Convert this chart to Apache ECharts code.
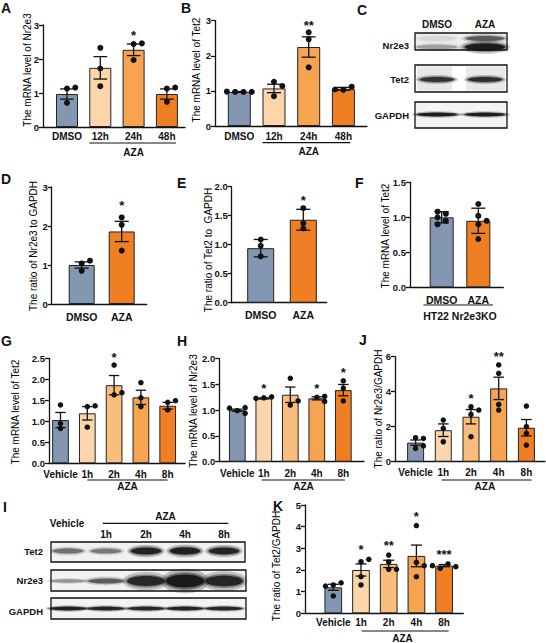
<!DOCTYPE html>
<html><head><meta charset="utf-8">
<script src="https://cdn.jsdelivr.net/npm/echarts@6/dist/echarts.min.js"></script>
<style>html,body{margin:0;padding:0;background:#fff}#c{width:546px;height:643px}</style>
</head><body><div id="c"></div>
<script>
// ---------------- DATA ----------------
const A_cats = ['DMSO','12h','24h','48h'];
const A_mean = [0.97, 1.74, 2.27, 0.97];
const A_err  = [0.15, 0.33, 0.17, 0.15];
const A_dots = [[1.13,1.16,0.71],[2.33,1.72,1.20],[2.44,2.46,1.97],[1.13,1.16,0.74]];
const A_sig  = ['','','*',''];

const B_cats = ['DMSO','12h','24h','48h'];
const B_mean = [0.97, 1.07, 2.25, 1.06];
const B_err  = [0.01, 0.12, 0.29, 0.04];
const B_dots = [[0.97,0.97,0.98,0.97],[1.26,1.14,0.85],[2.67,2.47,1.67],[1.03,1.12,1.04]];
const B_sig  = ['','','**',''];

const D_cats = ['DMSO','AZA'];
const D_mean = [1.0, 1.86];
const D_err  = [0.08, 0.26];
const D_dots = [[1.04,1.11,0.85],[2.22,2.03,1.37]];
const D_sig  = ['','*'];

const E_cats = ['DMSO','AZA'];
const E_mean = [0.94, 1.43];
const E_err  = [0.15, 0.18];
const E_dots = [[1.09,0.98,0.80],[1.63,1.37,1.28]];
const E_sig  = ['','*'];

const F_cats = ['DMSO','AZA'];
const F_mean = [1.0, 0.95];
const F_err  = [0.08, 0.18];
const F_dots = [[1.08,1.05,1.0,0.90,0.95],[1.19,1.02,0.95,0.90,0.69]];
const F_sig  = ['',''];

const G_cats = ['Vehicle','1h','2h','4h','8h'];
const G_mean = [1.03, 1.19, 1.86, 1.57, 1.37];
const G_err  = [0.18, 0.16, 0.23, 0.17, 0.08];
const G_dots = [[1.39,0.95,0.83],[1.35,1.37,0.86],[2.34,1.63,1.68],[1.92,1.56,1.35],[1.45,1.49,1.27]];
const G_sig  = ['','','*','',''];

const H_cats = ['Vehicle','1h','2h','4h','8h'];
const H_mean = [1.0, 1.23, 1.30, 1.23, 1.39];
const H_err  = [0.02, 0.01, 0.15, 0.03, 0.11];
const H_dots = [[0.99,1.05,1.04,0.94],[1.24,1.26,1.23],[1.62,1.10,1.18],[1.25,1.27,1.17],[1.57,1.43,1.18]];
const H_sig  = ['','*','','*','*'];

const J_cats = ['Vehicle','1h','2h','4h','8h'];
const J_mean = [1.09, 1.80, 2.57, 4.19, 1.94];
const J_err  = [0.15, 0.36, 0.41, 0.64, 0.47];
const J_dots = [[1.37,1.33,0.76,0.91],[2.38,1.90,1.14],[3.14,2.95,2.70,1.43],[5.53,5.05,2.95,3.27],[3.18,1.62,0.95,2.00]];
const J_sig  = ['','','*','**',''];

const K_cats = ['Vehicle','1h','2h','4h','8h'];
const K_mean = [1.20, 2.00, 2.28, 2.65, 2.20];
const K_err  = [0.14, 0.28, 0.17, 0.50, 0.05];
const K_dots = [[1.31,1.41,1.26,0.80],[2.38,2.49,1.69,1.31],[2.69,2.03,2.03,2.37],[4.05,2.35,2.20,1.69],[2.08,2.28,2.20,2.15]];
const K_sig  = ['','*','**','*','***'];

// western blots: relative band intensities
const C_lanes = ['DMSO','AZA'];
const C_rows  = ['Nr2e3','Tet2','GAPDH'];
const C_Nr2e3 = [0.25, 0.98];
const C_Nr2e3_upper = [0.06, 0.55];
const C_Tet2  = [0.78, 0.82];
const C_GAPDH = [0.97, 0.97];

const I_lanes = ['Vehicle','1h','2h','4h','8h'];
const I_rows  = ['Tet2','Nr2e3','GAPDH'];
const I_Tet2  = [0.45, 0.42, 0.92, 0.94, 0.9];
const I_Nr2e3 = [0.30, 0.55, 0.88, 1.0, 0.9];
const I_GAPDH = [0.94, 0.9, 0.88, 0.9, 0.9];

// ---------------- STYLE / LAYOUT ----------------
const FONT = "'Liberation Sans', Arial, Helvetica, sans-serif";
const BLUE='#8497B2', P1='#FCD6AA', P2='#FABD7C', P3='#F6A450', P4='#F07F24';
const INK = '#111';

const panels = [
 {cats:A_cats, mean:A_mean, err:A_err, dots:A_dots, sig:A_sig, colors:[BLUE,P1,P3,P4],
  ax:43, xEnd:185, y0:127, yTop:25, ymax:3, interval:1, dec:0, c0:67, sp:33.3, barW:22, dot:6, labGap:4, labSize:10, starGap:1.5,
  group:{from:1,to:3,padL:0.33,padR:0.27,lineDy:16,textDy:25,text:'AZA'}},
 {cats:B_cats, mean:B_mean, err:B_err, dots:B_dots, sig:B_sig, colors:[BLUE,P1,P3,P4],
  ax:215, xEnd:367, y0:126, yTop:20.7, ymax:3, interval:1, dec:0, c0:239.3, sp:34.7, barW:23, dot:6, labGap:5, labSize:10, starGap:0,
  group:{from:1,to:3,padL:0.33,padR:0.2,lineDy:16.7,textDy:25.7,text:'AZA'}},
 {cats:D_cats, mean:D_mean, err:D_err, dots:D_dots, sig:D_sig, colors:[BLUE,P4],
  ax:51.7, xEnd:146.7, y0:304, yTop:187, ymax:3, interval:1, dec:0, c0:81.7, sp:40, barW:26, dot:6, labGap:7, labSize:10.5, starGap:5},
 {cats:E_cats, mean:E_mean, err:E_err, dots:E_dots, sig:E_sig, colors:[BLUE,P4],
  ax:231.7, xEnd:326.7, y0:302.7, yTop:186.7, ymax:2, interval:0.5, dec:1, c0:260.7, sp:42.6, barW:27, dot:6, labGap:7, labSize:10.5, starGap:1.5},
 {cats:F_cats, mean:F_mean, err:F_err, dots:F_dots, sig:F_sig, colors:[BLUE,P4],
  ax:410, xEnd:503.3, y0:287.3, yTop:182.3, ymax:1.5, interval:0.5, dec:1, c0:441.7, sp:36.6, barW:24, dot:6, labGap:7, labSize:10.5, starGap:1.5,
  group:{from:0,to:1,padL:0.5,padR:0.4,lineDy:17.7,textDy:28.7,text:'HT22 Nr2e3KO'}},
 {cats:G_cats, mean:G_mean, err:G_err, dots:G_dots, sig:G_sig, colors:[BLUE,P1,P2,P3,P4],
  ax:49, xEnd:185, y0:463.3, yTop:358.3, ymax:2.5, interval:0.5, dec:1, c0:60.5, sp:26.8, barW:16.7, dot:5.5, labGap:6, labSize:10, starGap:1.5,
  group:{from:1,to:4,padL:0,padR:0.0,lineDy:16.7,textDy:23.4,text:'AZA'}},
 {cats:H_cats, mean:H_mean, err:H_err, dots:H_dots, sig:H_sig, colors:[BLUE,P1,P2,P3,P4],
  ax:219.3, xEnd:364, y0:461.7, yTop:358.7, ymax:2, interval:0.5, dec:1, c0:237.3, sp:26.5, barW:16.7, dot:5.5, labGap:7, labSize:10, starGap:1.5,
  group:{from:1,to:4,padL:0.08,padR:0.06,lineDy:18.3,textDy:25,text:'AZA'}},
 {cats:J_cats, mean:J_mean, err:J_err, dots:J_dots, sig:J_sig, colors:[BLUE,P1,P2,P3,P4],
  ax:395, xEnd:545, y0:461.7, yTop:356.7, ymax:6, interval:2, dec:0, c0:415.6, sp:27.7, barW:17, dot:5.5, labGap:6, labSize:10, starGap:1.5,
  group:{from:1,to:4,padL:0.06,padR:0.19,lineDy:18.3,textDy:25,text:'AZA'}},
 {cats:K_cats, mean:K_mean, err:K_err, dots:K_dots, sig:K_sig, colors:[BLUE,P1,P2,P3,P4],
  ax:305, xEnd:463.3, y0:613.3, yTop:505, ymax:5, interval:1, dec:0, c0:333.3, sp:27.7, barW:17.7, dot:5.5, labGap:4, labSize:10, starGap:3,
  group:{from:1,to:4,padL:-0.02,padR:0.16,lineDy:17.7,textDy:25,text:'AZA'}}
];

const yTitles = [
 ['The mRNA level of Nr2e3', 27, 70],
 ['The mRNA level of Tet2', 196.7, 70],
 ['The ratio of Nr2e3 to GAPDH', 33, 246],
 ['The ratio of Tet2 to  GAPDH', 208.5, 250],
 ['The mRNA level of Tet2', 385.5, 236],
 ['The mRNA level of Tet2', 15, 412],
 ['The mRNA level of Nr2e3', 193.3, 411],
 ['The ratio of Nr2e3/GAPDH', 378, 409],
 ['The ratio of Tet2/GAPDH', 276.7, 566]
];
const letters = [['A',1,1],['B',181,1],['C',357,3],['D',1,172],['E',177,176],['F',355,176],
                 ['G',1,334],['H',177,334],['J',359,333],['I',3,500],['K',273,499]];

// beeswarm-like horizontal spread of points that would overlap
function swarm(vals, pxPerUnit, d, step){
  const placed=[]; const thr=(d*0.85)*(d*0.85);
  const offs = vals.map(v=>{
    for(const k of [0,1,-1,2,-2,3,-3]){
      const off=k*step; let ok=true;
      for(const p of placed){const dx=off-p.off, dy=(v-p.v)*pxPerUnit; if(dx*dx+dy*dy<thr){ok=false;break;}}
      if(ok){placed.push({v,off}); return off;}
    }
    return 0;
  });
  const n=vals.length, seen=new Array(n).fill(false);
  for(let i=0;i<n;i++){ if(seen[i]) continue;
    const cl=[i]; seen[i]=true;
    for(let q=0;q<cl.length;q++) for(let j=0;j<n;j++) if(!seen[j] && Math.abs(vals[j]-vals[cl[q]])*pxPerUnit<d*0.85){seen[j]=true;cl.push(j);}
    if(cl.length>=4){ const os=cl.map(c=>offs[c]); const sh=-(Math.min(...os)+Math.max(...os))/2; cl.forEach(c=>offs[c]+=sh);} }
  return offs;
}

const txt = (size, weight)=>({fontSize:size, fontWeight:weight||'bold', fontFamily:FONT, fill:INK});

const option = {animation:false, grid:[], xAxis:[], yAxis:[], series:[], graphic:[]};

panels.forEach((p,k)=>{
  const n=p.cats.length;
  const xmin = -(p.c0-p.ax)/p.sp;
  const xmax = (n-1) + (p.xEnd-(p.c0+(n-1)*p.sp))/p.sp;
  const pxPerUnit = (p.y0-p.yTop)/p.ymax;
  const axisLine = {show:true, onZero:false, lineStyle:{color:INK, width:1.3}};
  option.grid.push({left:p.ax, top:p.yTop, width:p.xEnd-p.ax, height:p.y0-p.yTop, containLabel:false});
  option.xAxis.push({type:'value', gridIndex:k, min:xmin, max:xmax, axisLine,
    axisTick:{show:false}, axisLabel:{show:false}, splitLine:{show:false}});
  option.yAxis.push({type:'value', gridIndex:k, min:0, max:p.ymax, interval:p.interval, axisLine,
    axisTick:{show:true, length:4, lineStyle:{color:INK, width:1.3}},
    axisLabel:{fontSize:9.5, fontWeight:'bold', color:INK, fontFamily:FONT, margin:4,
      formatter:v=>v.toFixed(p.dec)}, splitLine:{show:false}});
  option.series.push({type:'bar', xAxisIndex:k, yAxisIndex:k, barWidth:p.barW, silent:true, z:2,
    itemStyle:{borderColor:'#222', borderWidth:1},
    data:p.mean.map((m,i)=>({value:[i,m], itemStyle:{color:p.colors[i]}}))});
  const cap = Math.min(14, p.barW*0.62);
  option.series.push({type:'custom', xAxisIndex:k, yAxisIndex:k, silent:true, z:4, clip:false,
    data:p.mean.map((m,i)=>[i,m,p.err[i]]),
    renderItem:(params,api)=>{
      const i=api.value(0), m=api.value(1), e=api.value(2);
      const t=api.coord([i,m+e]), b=api.coord([i,Math.max(0,m-e)]);
      const st={stroke:INK, lineWidth:1.3};
      return {type:'group', children:[
        {type:'line', shape:{x1:t[0],y1:t[1],x2:b[0],y2:b[1]}, style:st},
        {type:'line', shape:{x1:t[0]-cap/2,y1:t[1],x2:t[0]+cap/2,y2:t[1]}, style:st},
        {type:'line', shape:{x1:b[0]-cap/2,y1:b[1],x2:b[0]+cap/2,y2:b[1]}, style:st}]};
    }});
  const pts=[];
  p.dots.forEach((arr,i)=>{ const offs=swarm(arr,pxPerUnit,p.dot,p.dot+2.3);
    arr.forEach((v,j)=>pts.push([i+offs[j]/p.sp, v])); });
  option.series.push({type:'scatter', xAxisIndex:k, yAxisIndex:k, silent:true, z:5, symbolSize:p.dot,
    itemStyle:{color:INK, opacity:1}, data:pts});
  option.series.push({type:'custom', xAxisIndex:k, yAxisIndex:k, silent:true, z:6, clip:false,
    data:p.mean.map((m,i)=>[i, Math.max(m+p.err[i], ...p.dots[i])]),
    renderItem:(params,api)=>{
      const s=p.sig[params.dataIndex]; if(!s) return null;
      const c=api.coord([api.value(0), api.value(1)]);
      return {type:'text', x:c[0], y:c[1]-p.starGap, style:Object.assign(txt(13),{text:s, align:'center', verticalAlign:'bottom'})};
    }});
  option.series.push({type:'custom', xAxisIndex:k, yAxisIndex:k, silent:true, z:6, clip:false,
    data:p.cats.map((c,i)=>[i,0]),
    renderItem:(params,api)=>{
      const c=api.coord([api.value(0),0]);
      return {type:'text', x:c[0], y:c[1]+p.labGap, style:Object.assign(txt(p.labSize),{text:p.cats[params.dataIndex], align:'center', verticalAlign:'top'})};
    }});
  if(p.group){ const g=p.group;
    option.series.push({type:'custom', xAxisIndex:k, yAxisIndex:k, silent:true, z:6, clip:false,
      data:[[g.from-g.padL, g.to+g.padR, (g.from+g.to)/2]],
      renderItem:(params,api)=>{
        const a=api.coord([api.value(0),0]), b=api.coord([api.value(1),0]), m=api.coord([api.value(2),0]);
        return {type:'group', children:[
          {type:'line', shape:{x1:a[0],y1:a[1]+g.lineDy,x2:b[0],y2:a[1]+g.lineDy}, style:{stroke:INK,lineWidth:1.2}},
          {type:'text', x:m[0], y:a[1]+g.textDy, style:Object.assign(txt(p.labSize),{text:g.text, align:'center', verticalAlign:'middle'})}]};
      }});
  }
});

yTitles.forEach(([t,x,y])=>option.graphic.push({type:'text', x, y, rotation:Math.PI/2, silent:true,
  style:Object.assign(txt(10,'normal'),{text:t, align:'center', verticalAlign:'middle', fill:'#000'})}));
letters.forEach(([t,x,y])=>option.graphic.push({type:'text', x, y, silent:true,
  style:Object.assign(txt(14),{text:t, align:'left', verticalAlign:'top'})}));

// ---------- western blots ----------
function band(cx, cy, rx, ry, a){
  const out=[];
  [[1.25,1.9,0.25],[1.1,1.35,0.45],[1,1,0.88]].forEach(([sx,sy,al])=>{
    out.push({type:'ellipse', silent:true, shape:{cx, cy, rx:rx*sx, ry:ry*sy},
      style:{fill:'rgba(15,15,15,'+(a*al).toFixed(3)+')'}});
  });
  return out;
}
function box(x,y,w,h,fill){
  return {type:'rect', silent:true, shape:{x,y,width:w,height:h}, style:{fill:fill||'#f1f1f1', stroke:INK, lineWidth:1.3}};
}
const G = option.graphic;
G.push(box(415,33,92,17,'#eeeeee'));
G.push(box(415,65,92,27,'#ffffff'));
G.push({type:'rect',silent:true,shape:{x:417,y:66.5,width:35,height:24},style:{fill:'#e8e8e8'}});
G.push({type:'rect',silent:true,shape:{x:466,y:66.5,width:39,height:24},style:{fill:'#e8e8e8'}});
G.push(box(415,102,92,26,'#f3f3f3'));
const C_x=[437,485];
C_lanes.forEach((l,i)=>{
  G.push({type:'text',x:C_x[i],y:24,silent:true,style:Object.assign(txt(10),{text:l,align:'center',verticalAlign:'middle'})});
  G.push(...band(C_x[i],38.5,19,2.4,C_Nr2e3_upper[i]));
  G.push(...band(C_x[i],47,20,1.8+1.8*C_Nr2e3[i],C_Nr2e3[i]));
  G.push(...band(C_x[i],79.5,17,2.4,C_Tet2[i]));
  G.push(...band(C_x[i],114.5,20,1.7,C_GAPDH[i]));
});
[[C_rows[0],45],[C_rows[1],79],[C_rows[2],115]].forEach(([t,y])=>
  G.push({type:'text',x:409,y,silent:true,style:Object.assign(txt(9.5),{text:t,align:'right',verticalAlign:'middle'})}));
G.push(box(51,542,194,20,'#f1f1f1'));
G.push(box(51,570,195,21,'#f1f1f1'));
G.push(box(51,598,195,21,'#f3f3f3'));
const I_x=[68,106,146,185,224];
I_lanes.forEach((l,i)=>{
  if(i===0) G.push({type:'text',x:67,y:523,silent:true,style:Object.assign(txt(10),{text:l,align:'center',verticalAlign:'middle'})});
  else G.push({type:'text',x:I_x[i],y:534.3,silent:true,style:Object.assign(txt(10),{text:l,align:'center',verticalAlign:'middle'})});
  G.push(...band(I_x[i],551,15,1.5+2*I_Tet2[i],I_Tet2[i]));
  G.push(...band(I_x[i],581,16+3*I_Nr2e3[i],1.5+5*Math.pow(I_Nr2e3[i],3),I_Nr2e3[i]));
  G.push(...band(I_x[i],608.5,18,1.7,I_GAPDH[i]));
});
G.push({type:'line',silent:true,shape:{x1:102.7,y1:523.3,x2:228.3,y2:523.3},style:{stroke:INK,lineWidth:1.2}});
G.push({type:'text',x:165.5,y:516.5,silent:true,style:Object.assign(txt(10),{text:'AZA',align:'center',verticalAlign:'middle'})});
[[I_rows[0],551.7],[I_rows[1],580.7],[I_rows[2],611]].forEach(([t,y])=>
  G.push({type:'text',x:43,y,silent:true,style:Object.assign(txt(9.5),{text:t,align:'right',verticalAlign:'middle'})}));

const chart = echarts.init(document.getElementById('c'), null, {renderer:'svg', width:546, height:643});
chart.setOption(option);
</script></body></html>
